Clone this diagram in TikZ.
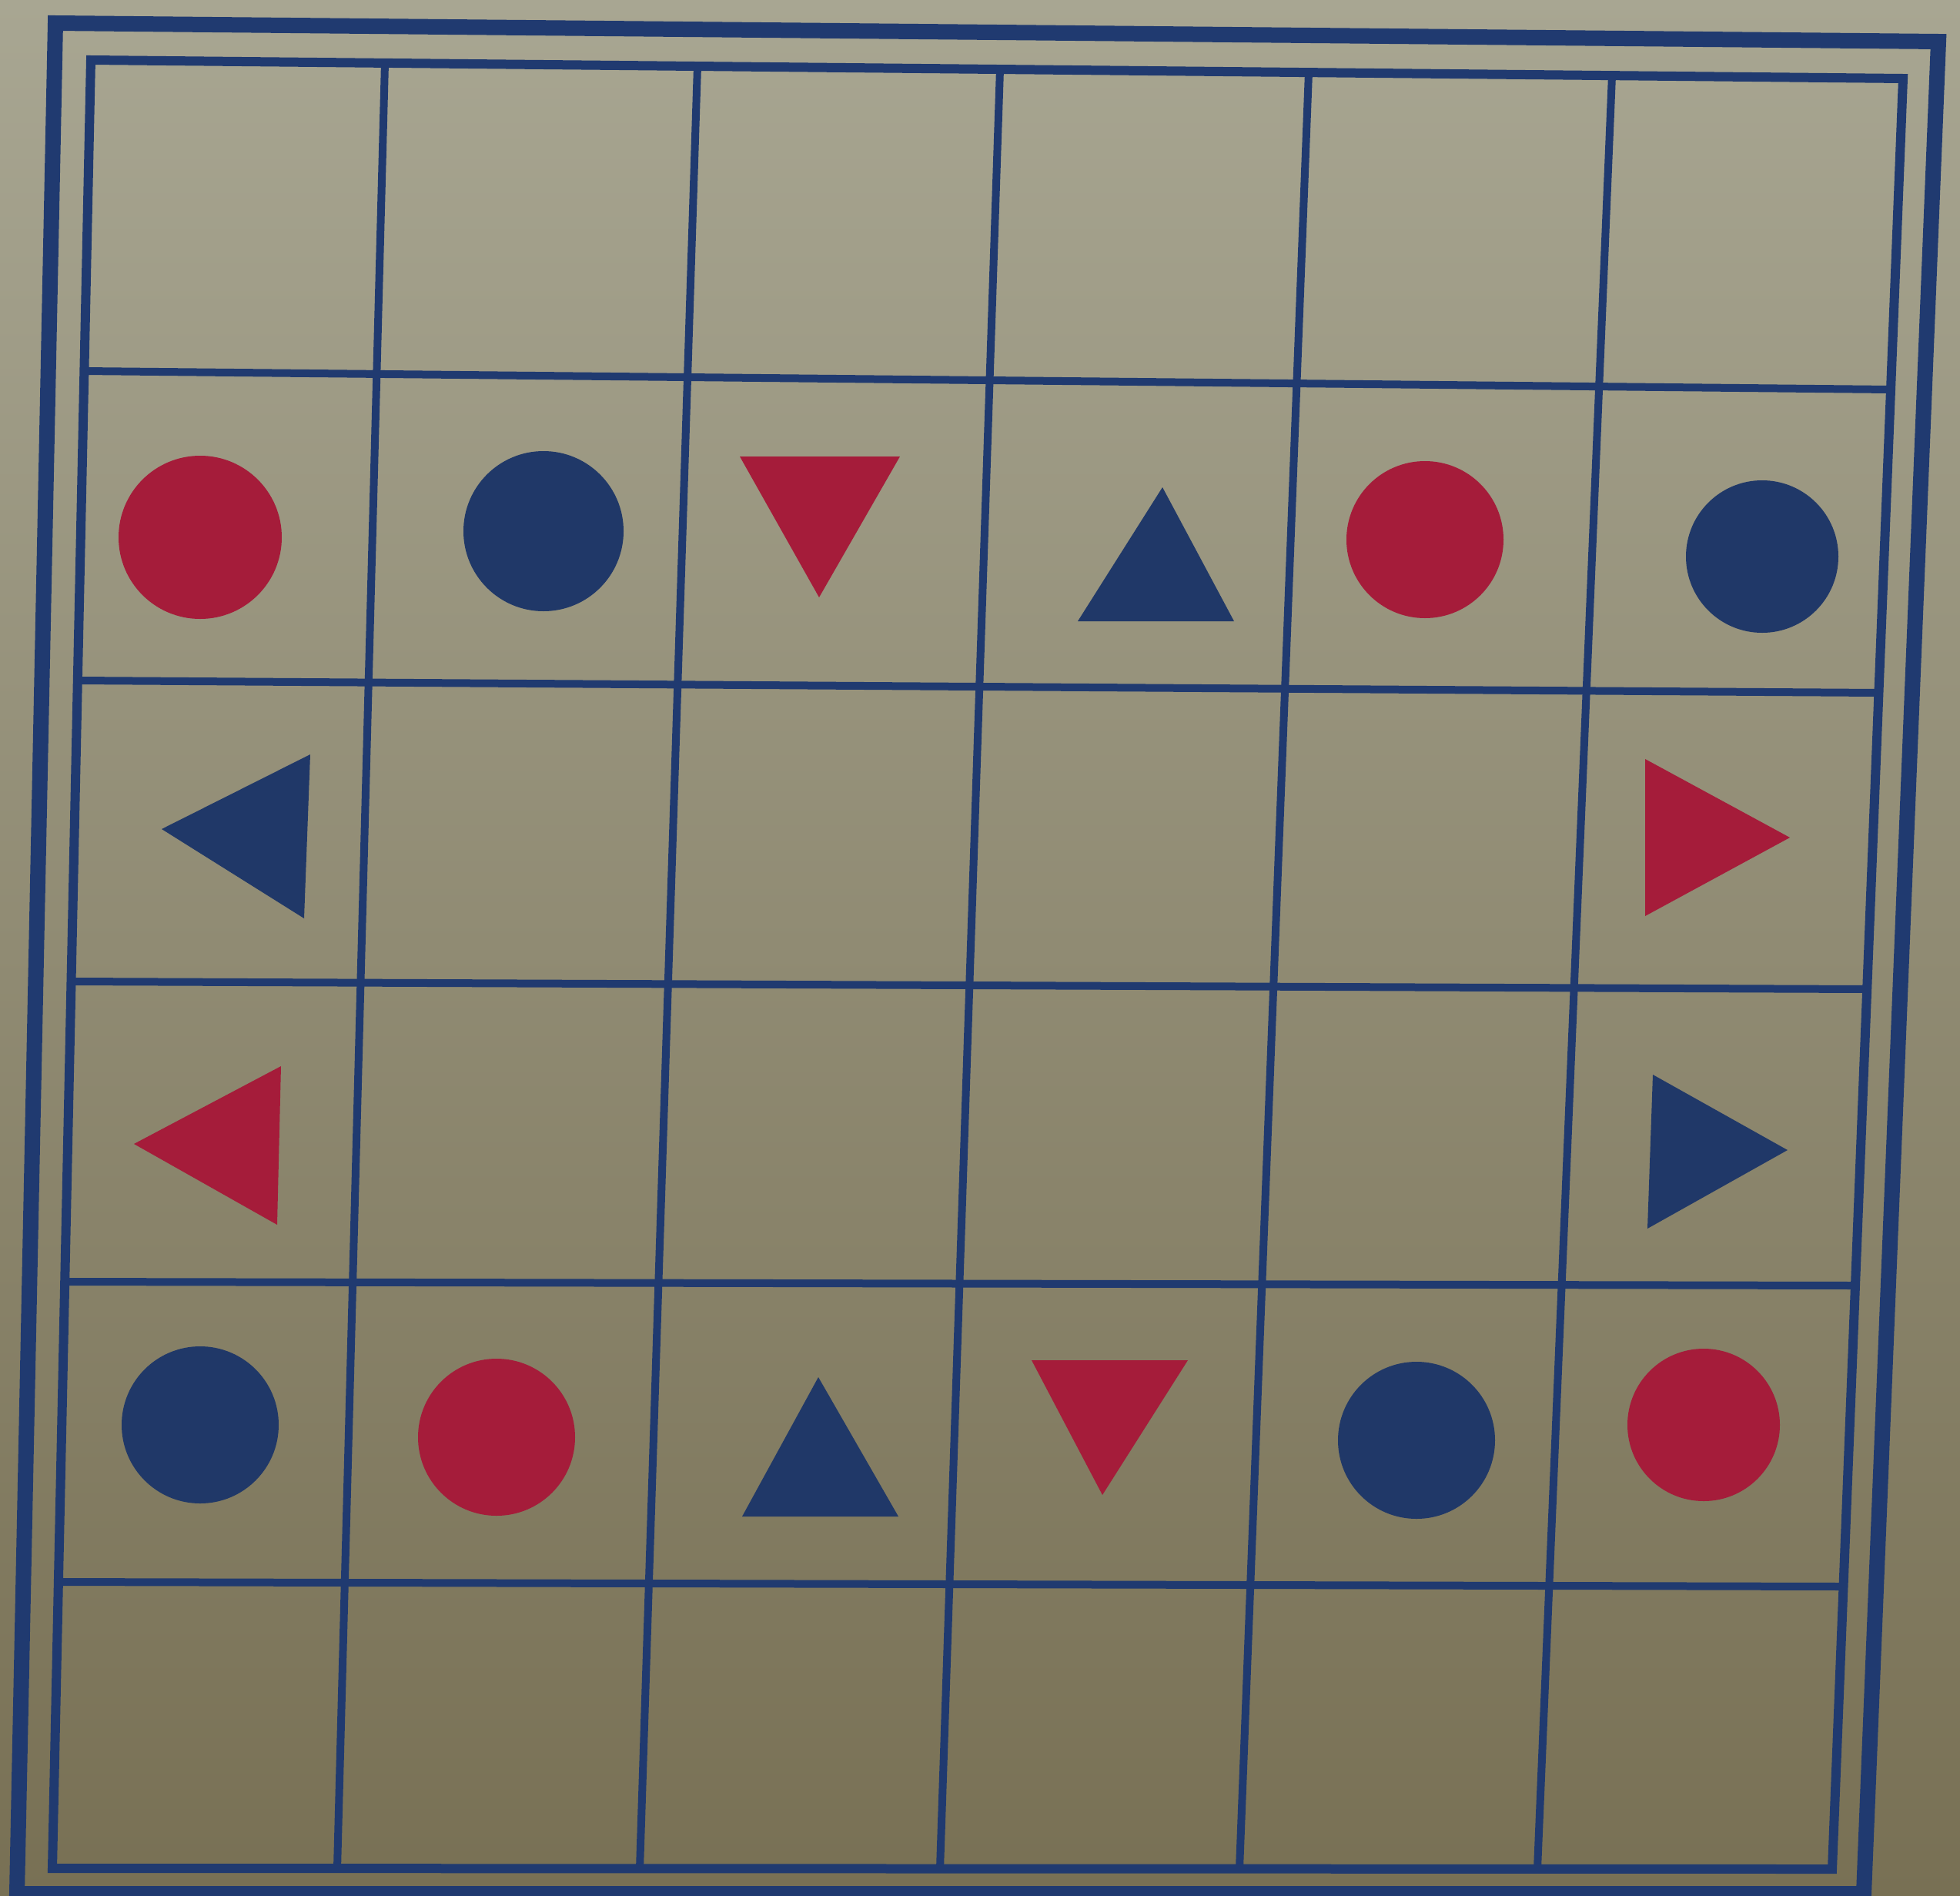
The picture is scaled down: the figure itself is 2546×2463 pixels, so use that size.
\documentclass[tikz,border=0pt]{standalone}
\usetikzlibrary{calc}
\definecolor{papertop}{RGB}{168,166,146}
\definecolor{paperbot}{RGB}{120,112,84}
\definecolor{inkblue}{RGB}{32,58,112}
\definecolor{shapered}{RGB}{165,28,58}
\definecolor{shapeblue}{RGB}{32,56,104}
\tikzset{
  frameline/.style={draw=inkblue, line width=20pt, line join=miter},
  borderline/.style={draw=inkblue, line width=12pt, line join=miter},
  gridline/.style={draw=inkblue, line width=10pt},
  redshape/.style={fill=shapered, draw=none},
  blueshape/.style={fill=shapeblue, draw=none}
}
\begin{document}
\begin{tikzpicture}[x=1pt, y=-1pt]
  \useasboundingbox (0,0) rectangle (2546,2463);
  \shade[top color=papertop, bottom color=paperbot] (0,0) rectangle (2546,2463);
  % outer frame
  \draw[frameline] (72,30) -- (2518,54) -- (2421,2460) -- (22,2460) -- cycle;
  % inner grid border
  \draw[borderline] (118,78) -- (2472,102) -- (2380,2428) -- (68,2427) -- cycle;
  % horizontal grid lines
  \draw[gridline] (109.4,482) -- (2456,506);
  \draw[gridline] (100.8,884) -- (2440,900);
  \draw[gridline] (92.5,1275) -- (2425,1285);
  \draw[gridline] (84.2,1665) -- (2410,1670);
  \draw[gridline] (75.9,2055) -- (2394.5,2061);
  % vertical grid lines
  \draw[gridline] (500,82) -- (438,2428);
  \draw[gridline] (906,86) -- (831,2428);
  \draw[gridline] (1299,90) -- (1221,2428);
  \draw[gridline] (1700,94) -- (1610,2428);
  \draw[gridline] (2094,98) -- (1997,2428);
  % row 2
  \fill[redshape] (260,698) circle (106);
  \fill[blueshape] (706,690) circle (104);
  \fill[redshape] (961,593) -- (1169,593) -- (1064,776) -- cycle;
  \fill[blueshape] (1510,633) -- (1603,807) -- (1400,807) -- cycle;
  \fill[redshape] (1851,701) circle (102);
  \fill[blueshape] (2289,723) circle (99);
  % row 3
  \fill[blueshape] (210,1077) -- (403,980) -- (395,1193) -- cycle;
  \fill[redshape] (2137,986) -- (2325,1088) -- (2137,1190) -- cycle;
  % row 4
  \fill[redshape] (174,1486) -- (365,1385) -- (360,1591) -- cycle;
  \fill[blueshape] (2147,1396) -- (2322,1494) -- (2140,1596) -- cycle;
  % row 5
  \fill[blueshape] (260,1851) circle (102);
  \fill[redshape] (645,1867) circle (102);
  \fill[blueshape] (1063,1789) -- (1167,1970) -- (964,1970) -- cycle;
  \fill[redshape] (1340,1767) -- (1543,1767) -- (1432,1942) -- cycle;
  \fill[blueshape] (1840,1871) circle (102);
  \fill[redshape] (2213,1851) circle (99);
\end{tikzpicture}
\end{document}
